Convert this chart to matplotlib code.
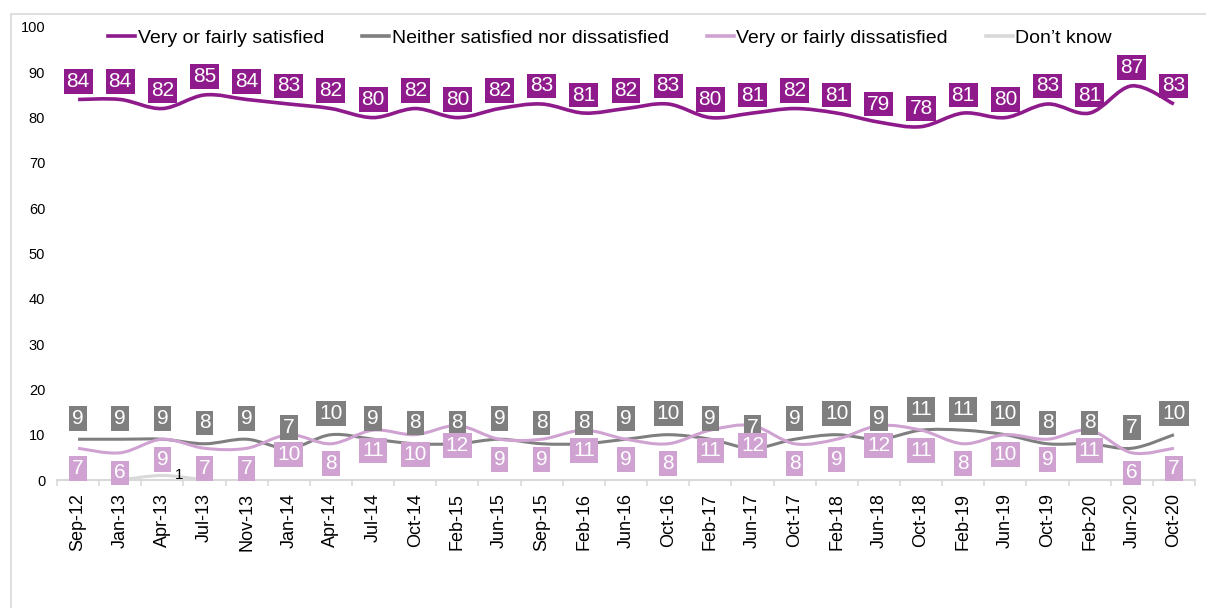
import numpy as np
import matplotlib
matplotlib.use('Agg')
import matplotlib.pyplot as plt
from matplotlib.path import Path
from matplotlib.patches import PathPatch, Rectangle
from matplotlib.lines import Line2D

plt.rcParams['font.family'] = ['Liberation Sans', 'DejaVu Sans']

#data
waves = ['Sep-12', 'Jan-13', 'Apr-13', 'Jul-13', 'Nov-13', 'Jan-14', 'Apr-14', 'Jul-14',
         'Oct-14', 'Feb-15', 'Jun-15', 'Sep-15', 'Feb-16', 'Jun-16', 'Oct-16', 'Feb-17',
         'Jun-17', 'Oct-17', 'Feb-18', 'Jun-18', 'Oct-18', 'Feb-19', 'Jun-19', 'Oct-19',
         'Feb-20', 'Jun-20', 'Oct-20']
satisfied = [84, 84, 82, 85, 84, 83, 82, 80, 82, 80, 82, 83, 81, 82, 83, 80, 81, 82,
             81, 79, 78, 81, 80, 83, 81, 87, 83]
neither = [9, 9, 9, 8, 9, 7, 10, 9, 8, 8, 9, 8, 8, 9, 10, 9, 7, 9, 10, 9, 11, 11,
           10, 8, 8, 7, 10]
dissatisfied = [7, 6, 9, 7, 7, 10, 8, 11, 10, 12, 9, 9, 11, 9, 8, 11, 12, 8, 9, 12,
                11, 8, 10, 9, 11, 6, 7]
dont_know = [None, 0, 1, 0]

c_sat = '#8E1A8B'
c_nei = '#7F7F7F'
c_dis = '#CFA2D2'
c_dk = '#D9D9D9'


def smooth_path(ys, x0=0):
    #excel style smoothed line: catmull-rom turned into bezier curves
    pts = np.column_stack([np.arange(len(ys)) + x0, ys]).astype(float)
    n = len(pts)
    verts = [pts[0]]
    codes = [Path.MOVETO]
    for i in range(n - 1):
        p0 = pts[max(i - 1, 0)]
        p1 = pts[i]
        p2 = pts[i + 1]
        p3 = pts[min(i + 2, n - 1)]
        verts += [p1 + (p2 - p0) / 6, p2 - (p3 - p1) / 6, p2]
        codes += [Path.CURVE4] * 3
    return Path(verts, codes)


fig = plt.figure(figsize=(12.06, 6.08), dpi=100)
ax = fig.add_axes([57 / 1206, 1 - 480 / 608, 1138 / 1206, 453 / 608])

x = np.arange(len(waves))

ax.add_patch(PathPatch(smooth_path(dont_know[1:], 1), fill=False, ec=c_dk, lw=2.2, zorder=2))
ax.add_patch(PathPatch(smooth_path(neither), fill=False, ec=c_nei, lw=2.2, zorder=2))
ax.add_patch(PathPatch(smooth_path(dissatisfied), fill=False, ec=c_dis, lw=2.2, zorder=2))
ax.add_patch(PathPatch(smooth_path(satisfied), fill=False, ec=c_sat, lw=2.6, zorder=2))


def label_series(vals, color, dy, z):
    for i, v in enumerate(vals):
        ax.annotate(str(v), (x[i], v), xytext=(0, dy), textcoords='offset points',
                    ha='center', va='center', fontsize=15, color='white', zorder=z,
                    bbox=dict(boxstyle='square,pad=0.14', fc=color, ec='none'))


label_series(satisfied, c_sat, 13, 5)
label_series(neither, c_nei, 15, 4)
label_series(dissatisfied, c_dis, -14.5, 5)
for i, v in enumerate(dont_know):
    if v:
        ax.annotate(str(v), (x[i], v), xytext=(9, 0), textcoords='offset points',
                    ha='left', va='center', fontsize=11, color='black', zorder=5)

#axes
ax.set_xlim(-0.5, len(waves) - 0.5)
ax.set_ylim(0, 100)
ax.set_xticks(x)
ax.set_xticklabels(waves, rotation=90, fontsize=13)
ax.set_xticks(np.arange(len(waves) + 1) - 0.5, minor=True)
ax.tick_params(axis='x', which='major', length=0, pad=9.5)
ax.tick_params(axis='x', which='minor', length=4.3, color='#D9D9D9', width=1.2)
ax.set_yticks(range(0, 101, 10))
ax.tick_params(axis='y', length=0, pad=8.5, labelsize=10.5)
for s in ['top', 'right', 'left']:
    ax.spines[s].set_visible(False)
ax.spines['bottom'].set_color('#D9D9D9')
ax.spines['bottom'].set_linewidth(1.5)

#legend
handles = [Line2D([], [], color=c_sat, lw=2.6), Line2D([], [], color=c_nei, lw=2.6),
           Line2D([], [], color=c_dis, lw=2.6), Line2D([], [], color=c_dk, lw=2.6)]
names = ['Very or fairly satisfied', 'Neither satisfied nor dissatisfied',
         'Very or fairly dissatisfied', 'Don\u2019t know']
fig.legend(handles, names, loc='center', bbox_to_anchor=(610 / 1206, 1 - 38 / 608),
           ncol=4, frameon=False, fontsize=14, handlelength=1.4, handletextpad=0.12,
           columnspacing=1.95, borderpad=0)

#outer chart border
fig.patches.append(Rectangle((11 / 1206, -0.1), 1.2, 1.1 - 14 / 608, transform=fig.transFigure,
                             fill=False, ec='#D9D9D9', lw=1.2))

fig.savefig('out.png', dpi=100)
